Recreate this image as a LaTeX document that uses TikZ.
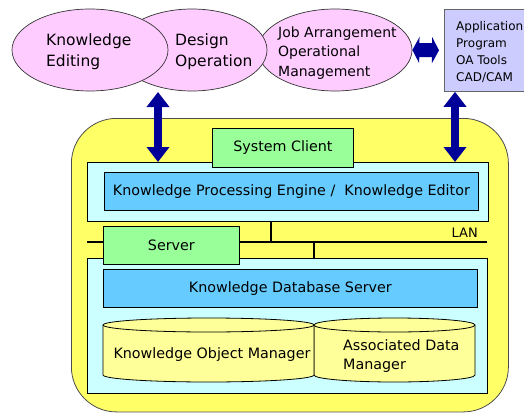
\documentclass[tikz,border=0pt]{standalone}
\usepackage{fontspec}
\setmainfont{DejaVu Sans}
\usetikzlibrary{shapes.geometric,arrows.meta}

\definecolor{pinkfill}{HTML}{FFCCFF}
\definecolor{appfill}{HTML}{CCCCFF}
\definecolor{yellowbg}{HTML}{FFFF66}
\definecolor{cyanbox}{HTML}{CCFFFF}
\definecolor{bluebox}{HTML}{66CCFF}
\definecolor{greenbox}{HTML}{99FF99}
\definecolor{cylfill}{HTML}{FFFF99}
\definecolor{navyarrow}{HTML}{000099}

\tikzset{
  rect/.style={draw=black, line width=0.8pt, inner sep=0pt, anchor=north west},
  oval/.style={ellipse, draw=black!80, line width=0.7pt, fill=pinkfill,
               minimum width=156pt, minimum height=82pt, inner sep=0pt},
  bigtext/.style={font=\fontsize{15.5}{21}\selectfont, align=left, anchor=west, inner sep=0pt},
  midtext/.style={font=\fontsize{14}{19.5}\selectfont, align=left, anchor=west, inner sep=0pt},
  boxtext/.style={font=\fontsize{14.3}{19}\selectfont, inner sep=0pt},
  apptext/.style={font=\fontsize{12}{17}\selectfont, align=left, anchor=west, inner sep=0pt},
  vlink/.style={line width=8pt, navyarrow,
                {Triangle[length=15pt,width=22pt]}-{Triangle[length=15pt,width=22pt]}},
  hlink/.style={line width=14pt, navyarrow,
                {Triangle[length=7pt,width=26pt]}-{Triangle[length=7pt,width=26pt]}},
  cyl/.style={draw=black, line width=0.8pt, fill=cylfill},
}

\begin{document}
\begin{tikzpicture}[x=1pt,y=-1pt]
\useasboundingbox (0,0) rectangle (524,412);

% user-side activities
\node[oval, minimum width=154pt] (job) at (335,50) {};
\node[oval, minimum width=150pt] (design) at (192,50) {};
\node[oval] (editing) at (90,50) {};
\node[bigtext] (editingtxt) at (46,52) {Knowledge\\Editing};
\node[bigtext] (designtxt) at (175,52) {Design\\Operation};
\node[midtext] (jobtxt) at (278,53) {Job Arrangement\\Operational\\Management};

% external applications
\node[rect, draw=black!60, fill=appfill, minimum width=90pt, minimum height=82pt] (app) at (444,9) {};
\node[apptext] (apptxt) at (456,52) {Application\\Program\\OA Tools\\CAD/CAM};

% the system
\node[rect, fill=yellowbg, rounded corners=45pt, draw=black!70,
      minimum width=437pt, minimum height=293.5pt] (system) at (71,118) {};

% client side
\node[rect, fill=cyanbox, minimum width=401pt, minimum height=59pt] (client) at (87,162) {};
\node[rect, fill=bluebox, minimum width=374pt, minimum height=38pt] (kpe) at (104,172) {};
\node[boxtext] (kpetxt) at (kpe.center) {Knowledge Processing Engine /\ \ Knowledge Editor};
\node[rect, fill=greenbox, minimum width=141pt, minimum height=39pt] (sysclient) at (212,128) {};
\node[boxtext] (sysclienttxt) at (sysclient.center) {System Client};

% server side
\node[rect, fill=cyanbox, minimum width=400pt, minimum height=135pt] (serverbox) at (87,258) {};
\node[rect, fill=bluebox, minimum width=374pt, minimum height=38pt] (kds) at (103,269) {};
\node[boxtext] (kdstxt) at (kds.center) {Knowledge Database Server};

% network
\coordinate (lanw) at (87,242);
\coordinate (lane) at (487,242);
\draw[line width=2.6pt] (lanw) -- (lane);
\node[boxtext, font=\fontsize{13}{15}\selectfont, anchor=base east] (lantxt) at (478,237) {LAN};
\draw[line width=2.6pt] (client.south -| 271,0) -- (lanw -| 271,0);
\draw[line width=2.6pt] (lanw -| 314,0) -- (serverbox.north -| 314,0);
\node[rect, fill=greenbox, minimum width=136pt, minimum height=38pt] (server) at (103,226) {};
\node[boxtext] (servertxt) at (server.center) {Server};

% data stores
\filldraw[cyl] (314,325) -- (314,375) arc[start angle=180, end angle=360, x radius=80.5pt, y radius=7pt]
  -- (475,325) arc[start angle=0, end angle=180, x radius=80.5pt, y radius=7pt] -- cycle;
\draw[line width=0.8pt] (314,325) arc[start angle=180, end angle=360, x radius=80.5pt, y radius=7pt];
\filldraw[cyl] (103,325) -- (103,375) arc[start angle=180, end angle=360, x radius=105.5pt, y radius=7pt]
  -- (314,325) arc[start angle=0, end angle=180, x radius=105.5pt, y radius=7pt] -- cycle;
\draw[line width=0.8pt] (103,325) arc[start angle=180, end angle=360, x radius=105.5pt, y radius=7pt];
\node[boxtext] (kom) at (212,355) {Knowledge Object Manager};
\node[boxtext, align=left, anchor=west] (adm) at (343,356) {Associated Data\\Manager};

% links
\coordinate (lcol) at (158,0);
\coordinate (rcol) at (455,0);
\draw[vlink] (lcol |- 0,92) -- (lcol |- client.north);
\draw[vlink] (rcol |- app.south) -- (rcol |- client.north);
\draw[hlink, shorten >=5pt] (job.east) -- (app.west);
\end{tikzpicture}
\end{document}
